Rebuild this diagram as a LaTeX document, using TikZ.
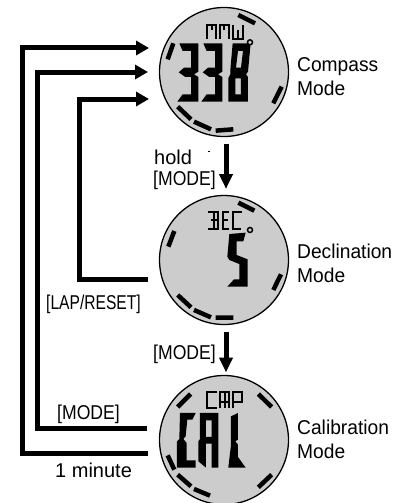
\documentclass[tikz,border=0pt]{standalone}
\usepackage{fontspec}
\usepackage{graphicx}
\setmainfont{Liberation Sans}
\usetikzlibrary{arrows.meta}
\definecolor{face}{gray}{0.8}
\newcommand{\lbl}[2]{\scalebox{#1}[1]{#2}}
\tikzset{
  dial/.style={circle,draw=black,fill=face,line width=1.3pt,minimum size=129pt,inner sep=0pt},
  conn/.style={line width=5pt,miter limit=10},
  arrowconn/.style={conn,-{Triangle[length=13pt,width=14pt]}},
  txt/.style={anchor=base west,inner sep=0pt,font=\fontsize{20}{22}\selectfont},
  seg/.style={line width=4.5pt},
  lcd/.style={fill=black,even odd rule},
  small/.style={draw=black,line width=2pt},
  deg/.style={draw=black,fill=face,line width=1.5pt}
}
\begin{document}
\begin{tikzpicture}[x=1pt,y=-1pt]
\useasboundingbox (0,0) rectangle (396,503);
\begin{scope}
\clip (0,0) rectangle (396,503);
\node[dial] (compass) at (224,72) {};
\node[dial] (decl) at (224,260) {};
\node[dial] (calib) at (224,440) {};
\end{scope}
% connector ends
\coordinate (in1) at (149,48);
\coordinate (in2) at (148,72);
\coordinate (in3) at (149,99);
\coordinate (outd) at (148,279);
\coordinate (outm) at (147,428);
\coordinate (outt) at (148,453);
\coordinate (c1) at (22,48);
\coordinate (c2) at (37,72);
\coordinate (c3) at (79,99);
\draw[arrowconn] (outt) -| (c1) -- (in1);
\draw[arrowconn] (outm) -| (c2) -- (in2);
\draw[arrowconn] (outd) -| (c3) -- (in3);
\coordinate (a1s) at (226,143.5);
\coordinate (a1e) at (226,189);
\coordinate (a2s) at (226,332);
\coordinate (a2e) at (226,372.5);
\draw[conn,-{Triangle[length=15pt,width=13pt]}] (a1s) -- (a1e);
\draw[conn,-{Triangle[length=15pt,width=13pt]}] (a2s) -- (a2e);
% labels
\node[txt] (t1) at (297,71) {\lbl{.96}{Compass}};
\node[txt] (t2) at (297,95) {\lbl{.96}{Mode}};
\node[txt] (t3) at (297,258) {\lbl{.96}{Declination}};
\node[txt] (t4) at (297,282) {\lbl{.96}{Mode}};
\node[txt] (t5) at (297,434) {\lbl{.96}{Calibration}};
\node[txt] (t6) at (297,458) {\lbl{.96}{Mode}};
\node[txt] (t7) at (154,164) {hold};
\node[txt] (t8) at (153,185) {\lbl{.88}{[MODE]}};
\node[txt] (t9) at (153,359) {\lbl{.88}{[MODE]}};
\node[txt] (t10) at (46,309) {\lbl{.78}{[LAP/RESET]}};
\node[txt] (t11) at (57,419) {\lbl{.88}{[MODE]}};
\node[txt] (t12) at (55,477) {1 minute};
\draw[line width=.7pt] (208,151.7) -- (210,151.7);
% compass dial: zoom coordinates
\begin{scope}[shift={(130,0)},x=.3333pt,y=-.3333pt]
\draw[seg] (325,45)--(375,70) (130,130)--(113,178) (455,260)--(430,310) (143,320)--(183,358) (192,365)--(243,388) (257,392)--(310,388);
\end{scope}
\begin{scope}[shift={(170,15)},x=.3333pt,y=-.3333pt]
\newcommand{\dthree}{(28,85)--(85,85)--(85,170)--(72,178)--(85,186)--(85,260)--(22,260)--(38,238)--(63,238)--(63,186)--(46,186)--(26,172)--(42,158)--(63,158)--(63,108)--(38,108)--cycle}
\fill[lcd] \dthree;
\begin{scope}[xshift=24pt]\fill[lcd] \dthree;\end{scope}
\fill[lcd] (188,85)--(242,85)--(234,170)--(228,178)--(234,186)--(234,260)--(175,260)--(175,190)--(181,178)--(181,165)--cycle (204,108)--(219,108)--(213,158)--(198,158)--cycle (196,190)--(213,190)--(213,238)--(196,238)--cycle;
\draw[small] (112,72)--(112,30)--(138,30)--(138,72) (125,30)--(125,45);
\draw[small] (150,72)--(150,30)--(176,30)--(176,72) (163,30)--(163,45);
\draw[small] (188,30)--(188,72)--(218,72)--(218,30) (203,45)--(203,72);
\draw[deg] (240,82) circle (7.5);
\end{scope}
% declination dial
\begin{scope}[shift={(130,170)},x=.3333pt,y=-.3333pt]
\draw[seg] (325,98)--(373,122) (133,183)--(115,230) (453,313)--(430,360) (143,375)--(183,412) (192,420)--(243,442) (257,443)--(310,443);
\end{scope}
\begin{scope}[shift={(200,200)},x=.3333pt,y=-.3333pt]
\fill[lcd] (88,102)--(137,98)--(130,124)--(110,124)--(110,165)--(143,178)--(143,260)--(82,260)--(102,238)--(118,238)--(118,192)--(88,180)--(82,170)--cycle;
\draw[small] (25,35)--(55,35)--(55,88)--(25,88) (32,61)--(55,61) (42,35)--(42,88);
\draw[small] (88,35)--(68,35)--(68,88)--(88,88) (68,61)--(85,61);
\draw[small] (125,35)--(100,35)--(100,88)--(122,88);
\draw[deg] (150,90) circle (7.5);
\end{scope}
% calibration dial
\begin{scope}
\clip (0,0) rectangle (396,503);
\begin{scope}[shift={(130,333)},x=.3333pt,y=-.3333pt]
\draw[seg] (182,183)--(143,222) (385,183)--(425,222) (113,367)--(133,410) (143,425)--(183,460) (192,468)--(240,488) (425,425)--(385,463);
\fill[lcd] (150,240)--(197,240)--(187,260)--(172,260)--(167,310)--(160,318)--(170,330)--(170,382)--(197,382)--(197,404)--(141,404)--(141,325)--(148,318)--cycle;
\fill[lcd] (210,240)--(265,240)--(265,404)--(245,404)--(245,332)--(228,332)--(228,404)--(205,385)--(205,325)--(210,318)--cycle (228,262)--(245,262)--(245,312)--(228,312)--cycle;
\fill[lcd] (303,250)--(324,240)--(324,320)--(316,325)--(324,335)--(324,372)--(347,404)--(295,404)--(303,335)--(303,315)--cycle;
\end{scope}
\begin{scope}[shift={(170,385)},x=.3333pt,y=-.3333pt]
\draw[small] (140,22)--(110,22)--(110,70)--(140,70);
\draw[small] (150,70)--(150,22)--(178,22)--(178,70) (150,52)--(178,52) (164,22)--(164,70);
\draw[small] (190,70)--(190,22)--(215,22)--(215,50)--(190,50);
\end{scope}
\end{scope}
\end{tikzpicture}
\end{document}
